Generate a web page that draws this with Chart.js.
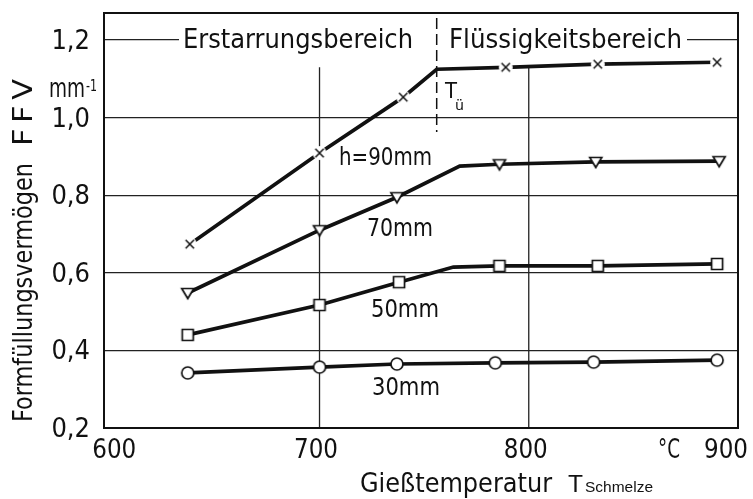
<!DOCTYPE html>
<html>
<head>
<meta charset="utf-8">
<script src="https://cdn.jsdelivr.net/npm/chart.js@4/dist/chart.umd.min.js"></script>
<style>
  html, body { margin: 0; padding: 0; background: #fff; }
  canvas { display: block; }
</style>
</head>
<body>
<canvas id="c" width="753" height="499"></canvas>
<script>
// Mould filling capacity FFV versus casting temperature of the melt,
// for four mould gap heights h.
const xTickValues = [600, 700, 800, 900];
const yTickValues = [0.2, 0.4, 0.6, 0.8, 1.0, 1.2];
const transitionTemp = 756;            // T_ü, solidification / liquid boundary

const temp90 = [638, 700, 740, 789, 833, 890];
const ffv90  = [0.674, 0.909, 1.053, 1.130, 1.138, 1.143];
const bend90 = [[transitionTemp, 1.125]];

const temp70 = [637, 700, 737, 786, 832, 891];
const ffv70  = [0.548, 0.710, 0.795, 0.880, 0.886, 0.888];
const bend70 = [[767, 0.875]];

const temp50 = [637, 700, 738, 786, 833, 890];
const ffv50  = [0.440, 0.517, 0.576, 0.618, 0.618, 0.623];
const bend50 = [[764, 0.615]];

const temp30 = [637, 700, 737, 784, 831, 890];
const ffv30  = [0.342, 0.357, 0.365, 0.368, 0.370, 0.375];
const bend30 = [];

const seriesLabels = ['h=90mm', '70mm', '50mm', '30mm'];
const regionLabels = ['Erstarrungsbereich', 'Flüssigkeitsbereich'];

const INK = '#111';
const DIN = "'DejaVu Sans Condensed', 'DejaVu Sans', sans-serif";
const SANS = "'Liberation Sans', Arial, sans-serif";

// Hollow markers on a white ground, so the curve breaks around them.
function makeMarker(kind) {
  const c = document.createElement('canvas');
  c.width = c.height = 18;
  const g = c.getContext('2d');
  g.translate(9, 9);
  g.fillStyle = '#fff';
  g.strokeStyle = INK;
  g.lineWidth = 1.7;
  g.beginPath();
  if (kind === 'cross') {
    g.arc(0, 0, 7, 0, Math.PI * 2);
    g.fill();
    g.beginPath();
    g.lineWidth = 1.5;
    g.moveTo(-4.2, -4.2); g.lineTo(4.2, 4.2);
    g.moveTo(4.2, -4.2); g.lineTo(-4.2, 4.2);
    g.stroke();
  } else if (kind === 'triangleDown') {
    g.moveTo(-6, -4.5); g.lineTo(6, -4.5); g.lineTo(0, 5.5); g.closePath();
    g.fill(); g.stroke();
  } else if (kind === 'square') {
    g.rect(-5.5, -5.5, 11, 11);
    g.fill(); g.stroke();
  } else {
    g.arc(0, 0, 6, 0, Math.PI * 2);
    g.fill(); g.stroke();
  }
  return c;
}

const pts = (xs, ys) => xs.map((x, i) => ({ x, y: ys[i] }));
const path = (xs, ys, bends) =>
  pts(xs, ys).concat(bends.map(([x, y]) => ({ x, y }))).sort((a, b) => a.x - b.x);

const series = [
  { xs: temp90, ys: ffv90, bends: bend90, marker: 'cross' },
  { xs: temp70, ys: ffv70, bends: bend70, marker: 'triangleDown' },
  { xs: temp50, ys: ffv50, bends: bend50, marker: 'square' },
  { xs: temp30, ys: ffv30, bends: bend30, marker: 'circle' }
];

const datasets = [];
series.forEach((s, i) => {
  datasets.push({
    label: seriesLabels[i],
    data: pts(s.xs, s.ys),
    showLine: false,
    pointStyle: makeMarker(s.marker),
    pointRadius: 7,
    pointHoverRadius: 7,
    order: 0
  });
  datasets.push({
    label: seriesLabels[i] + ' curve',
    data: path(s.xs, s.ys, s.bends),
    showLine: true,
    borderColor: INK,
    borderWidth: 3.7,
    tension: 0,
    pointRadius: 0,
    pointHoverRadius: 0,
    order: 1
  });
});

// Draw text spanning [left, right] on the given baseline. Glyphs are widened
// up to a limit; any remaining width goes into letter spacing.
function fitText(ctx, text, left, right, baseline, font) {
  ctx.save();
  ctx.font = font;
  ctx.textAlign = 'left';
  ctx.textBaseline = 'alphabetic';
  const target = right - left;
  const w = ctx.measureText(text).width;
  const n = [...text].length;
  const s = Math.min(target / w, 1.25);
  ctx.translate(left, baseline);
  ctx.scale(s, 1);
  const rest = target - w * s;
  if (rest > 0.5 && n > 1 && 'letterSpacing' in ctx) {
    ctx.letterSpacing = (rest / (n - 1) / s).toFixed(2) + 'px';
  }
  ctx.fillText(text, 0, 0);
  ctx.restore();
}

const annotations = {
  id: 'annotations',
  beforeDatasetsDraw(chart) {
    const { ctx, chartArea: a, scales: { x, y } } = chart;
    ctx.save();
    ctx.strokeStyle = '#222';
    ctx.lineWidth = 1.3;
    // inner temperature grid lines stop just under the top curve
    xTickValues.slice(1, -1).forEach(v => {
      const px = x.getPixelForValue(v);
      ctx.beginPath();
      ctx.moveTo(px, y.getPixelForValue(1.13));
      ctx.lineTo(px, a.bottom);
      ctx.stroke();
    });
    ctx.restore();
  },
  afterDatasetsDraw(chart) {
    const { ctx, chartArea: a, scales: { x, y } } = chart;
    ctx.save();
    ctx.fillStyle = INK;
    ctx.strokeStyle = INK;

    // frame
    ctx.lineWidth = 2;
    ctx.strokeRect(a.left, a.top, a.right - a.left, a.bottom - a.top);

    // region headings interrupt the 1.2 grid line
    ctx.fillStyle = '#fff';
    ctx.fillRect(179, 26, 687 - 179, 28);
    ctx.fillStyle = INK;
    fitText(ctx, regionLabels[0], 183, 413, 48, `27px ${DIN}`);
    fitText(ctx, regionLabels[1], 449, 682, 48, `27px ${DIN}`);

    // dashed boundary at T_ü
    const tx = x.getPixelForValue(transitionTemp);
    ctx.lineWidth = 1.5;
    ctx.setLineDash([11, 5]);
    ctx.beginPath();
    ctx.moveTo(tx, y.getPixelForValue(1.257));
    ctx.lineTo(tx, y.getPixelForValue(0.963));
    ctx.stroke();
    ctx.setLineDash([]);
    fitText(ctx, 'T', 445, 457, 98, `22px ${DIN}`);
    fitText(ctx, 'ü', 455, 464, 110, `14px ${DIN}`);

    // curve labels
    fitText(ctx, seriesLabels[0], 339, 432, 165, `24px ${DIN}`);
    fitText(ctx, seriesLabels[1], 367, 433, 236, `24px ${DIN}`);
    fitText(ctx, seriesLabels[2], 371, 439, 317, `24px ${DIN}`);
    fitText(ctx, seriesLabels[3], 372, 440, 395, `24px ${DIN}`);

    // temperature tick labels and unit
    const nudge = { 600: 4, 700: -3.5, 800: -3, 900: -12 };
    xTickValues.forEach(v => {
      const c = x.getPixelForValue(v) + (nudge[v] || 0);
      fitText(ctx, String(v), c - 22, c + 22, 458, `27px ${DIN}`);
    });
    fitText(ctx, '°C', 658, 680, 458, `27px ${DIN}`);

    // axis titles
    fitText(ctx, 'Gießtemperatur', 360, 552, 492, `27px ${DIN}`);
    fitText(ctx, 'T', 568, 583, 492, `24px ${SANS}`);
    fitText(ctx, 'Schmelze', 585, 653, 492, `15px ${SANS}`);

    fitText(ctx, 'mm', 49, 85, 97, `27px ${DIN}`);
    fitText(ctx, '-1', 86, 97, 91, `16px ${DIN}`);

    ctx.translate(32, 422);
    ctx.rotate(-Math.PI / 2);
    fitText(ctx, 'Formfüllungsvermögen', 0, 259, 0, `27px ${DIN}`);
    fitText(ctx, 'FFV', 276, 343, 0, `27px ${DIN}`);
    ctx.restore();
  }
};

new Chart(document.getElementById('c'), {
  type: 'scatter',
  data: { datasets },
  options: {
    responsive: false,
    devicePixelRatio: 1,
    animation: false,
    events: [],
    layout: { padding: { top: 13, right: 15, left: 0, bottom: 0 } },
    plugins: { legend: { display: false }, tooltip: { enabled: false } },
    scales: {
      x: {
        type: 'linear',
        min: 597,
        max: 900,
        ticks: { display: false },
        grid: { display: false },
        border: { display: false },
        afterFit(s) { s.height = 71; s.paddingLeft = 0; s.paddingRight = 0; }
      },
      y: {
        type: 'linear',
        min: 0.2,
        max: 1.27,
        afterBuildTicks(s) { s.ticks = yTickValues.map(v => ({ value: v })); },
        ticks: {
          padding: 14,
          color: INK,
          font: { family: DIN, size: 27 },
          labelOffset: 2,
          callback: v => v.toFixed(1).replace('.', ',')
        },
        grid: { color: '#222', lineWidth: 1.3, drawTicks: false },
        border: { display: false },
        afterFit(s) { s.width = 104; s.paddingTop = 0; s.paddingBottom = 0; }
      }
    }
  },
  plugins: [annotations]
});
</script>
</body>
</html>
